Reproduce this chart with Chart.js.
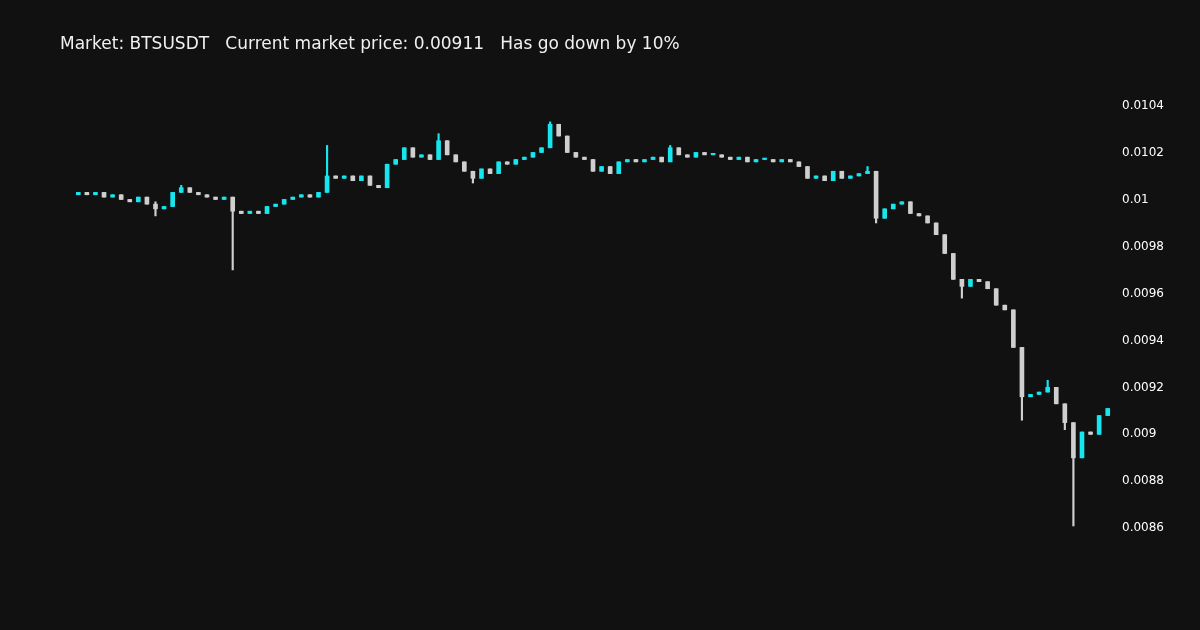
<!DOCTYPE html>
<html>
<head>
<meta charset="utf-8">
<script src="https://cdn.jsdelivr.net/npm/chart.js@4/dist/chart.umd.min.js"></script>
<style>
  html, body { margin: 0; background: #111111; }
  #wrap { position: relative; width: 1200px; height: 630px; }
  #title { position: absolute; left: 60px; top: 33px; color: #f0f0f0;
    font: 17px "DejaVu Sans", sans-serif; white-space: pre; }
</style>
</head>
<body>
<div id="wrap">
  <div id="title">Market: BTSUSDT   Current market price: 0.00911   Has go down by 10%</div>
  <canvas id="chart" width="1200" height="630"></canvas>
</div>
<script>
// close of each candle; open is the previous close
const closes = [
  0.01003,0.01002,0.01003,0.01001,0.01002,
  0.01000,0.00999,0.01001,0.00998,0.00996,0.00997,
  0.01003,0.01005,0.01003,0.01002,0.01001,0.01000,0.01001,
  0.00995,0.00994,0.00995,0.00994,
  0.00997,0.00998,0.01000,0.01001,0.01002,0.01001,0.01003,
  0.01010,0.01009,0.01010,0.01008,0.01010,0.01006,0.01005,
  0.01015,0.01017,0.01022,0.01018,0.01019,0.01017,0.01025,0.01019,
  0.01016,0.01012,0.01009,0.01013,0.01011,
  0.01016,0.01015,0.01017,0.01018,0.01020,0.01022,0.01032,0.01027,
  0.01020,0.01018,0.01017,0.01012,0.01014,0.01011,
  0.01016,0.01017,0.01016,0.01017,0.01018,0.01016,0.01022,
  0.01019,0.01018,0.01020,0.01019,
  0.01019,0.01018,0.01017,0.01018,0.01016,0.01017,0.01017,
  0.01016,0.01017,0.01016,0.01014,
  0.01009,0.01010,0.01008,0.01012,0.01009,0.01010,0.01011,0.01012,
  0.00992,0.00996,0.00998,0.00999,0.00994,0.00993,0.00990,
  0.00985,0.00977,0.00966,0.00963,0.00966,0.00965,0.00962,
  0.00955,0.00953,0.00937,0.00916,0.00917,0.00918,0.00920,
  0.00913,0.00905,0.00890,0.00901,0.00900,0.00908,0.00911
];
const firstOpen = 0.01002;
// wick extremes where they stick out of the body
const wickHigh = {9: 0.00999, 12: 0.01006, 29: 0.01023, 42: 0.01028, 55: 0.01033, 69: 0.01023, 92: 0.01014, 113: 0.00923};
const wickLow = {9: 0.00993, 18: 0.00970, 46: 0.01007, 93: 0.00990, 103: 0.00958, 110: 0.00906, 115: 0.00902, 116: 0.00861};
const yTicks = [0.0086,0.0088,0.009,0.0092,0.0094,0.0096,0.0098,0.01,0.0102,0.0104];

const UP = '#17e6ef', DOWN = '#cfcfcf';
const labels = closes.map((_, i) => i);
const opens = closes.map((c, i) => i === 0 ? firstOpen : closes[i - 1]);
const bodies = closes.map((c, i) => [Math.min(opens[i], c), Math.max(opens[i], c)]);
const wicks = closes.map((c, i) => [
  wickLow[i] != null ? wickLow[i] : Math.min(opens[i], c),
  wickHigh[i] != null ? wickHigh[i] : Math.max(opens[i], c)
]);
const colors = closes.map((c, i) => c >= opens[i] ? UP : DOWN);

new Chart(document.getElementById('chart'), {
  type: 'bar',
  data: {
    labels: labels,
    datasets: [
      { data: wicks, backgroundColor: colors, barThickness: 1.5, grouped: false, minBarLength: 1 },
      { data: bodies, backgroundColor: colors, barThickness: 4, grouped: false, minBarLength: 1.5 }
    ]
  },
  options: {
    responsive: false,
    animation: false,
    layout: { padding: { top: 82, bottom: 50, left: 74, right: 34 } },
    plugins: { legend: { display: false }, tooltip: { enabled: false } },
    scales: {
      x: { display: false, offset: true },
      y: {
        position: 'right', min: 0.00838, max: 0.0105,
        grid: { display: false }, border: { display: false },
        afterBuildTicks: s => { s.ticks = yTicks.map(v => ({ value: v })); },
        ticks: { color: '#ffffff', font: { size: 12, family: 'DejaVu Sans' }, padding: 2,
          callback: v => String(Number(v.toFixed(4))) }
      }
    }
  }
});
</script>
</body>
</html>
